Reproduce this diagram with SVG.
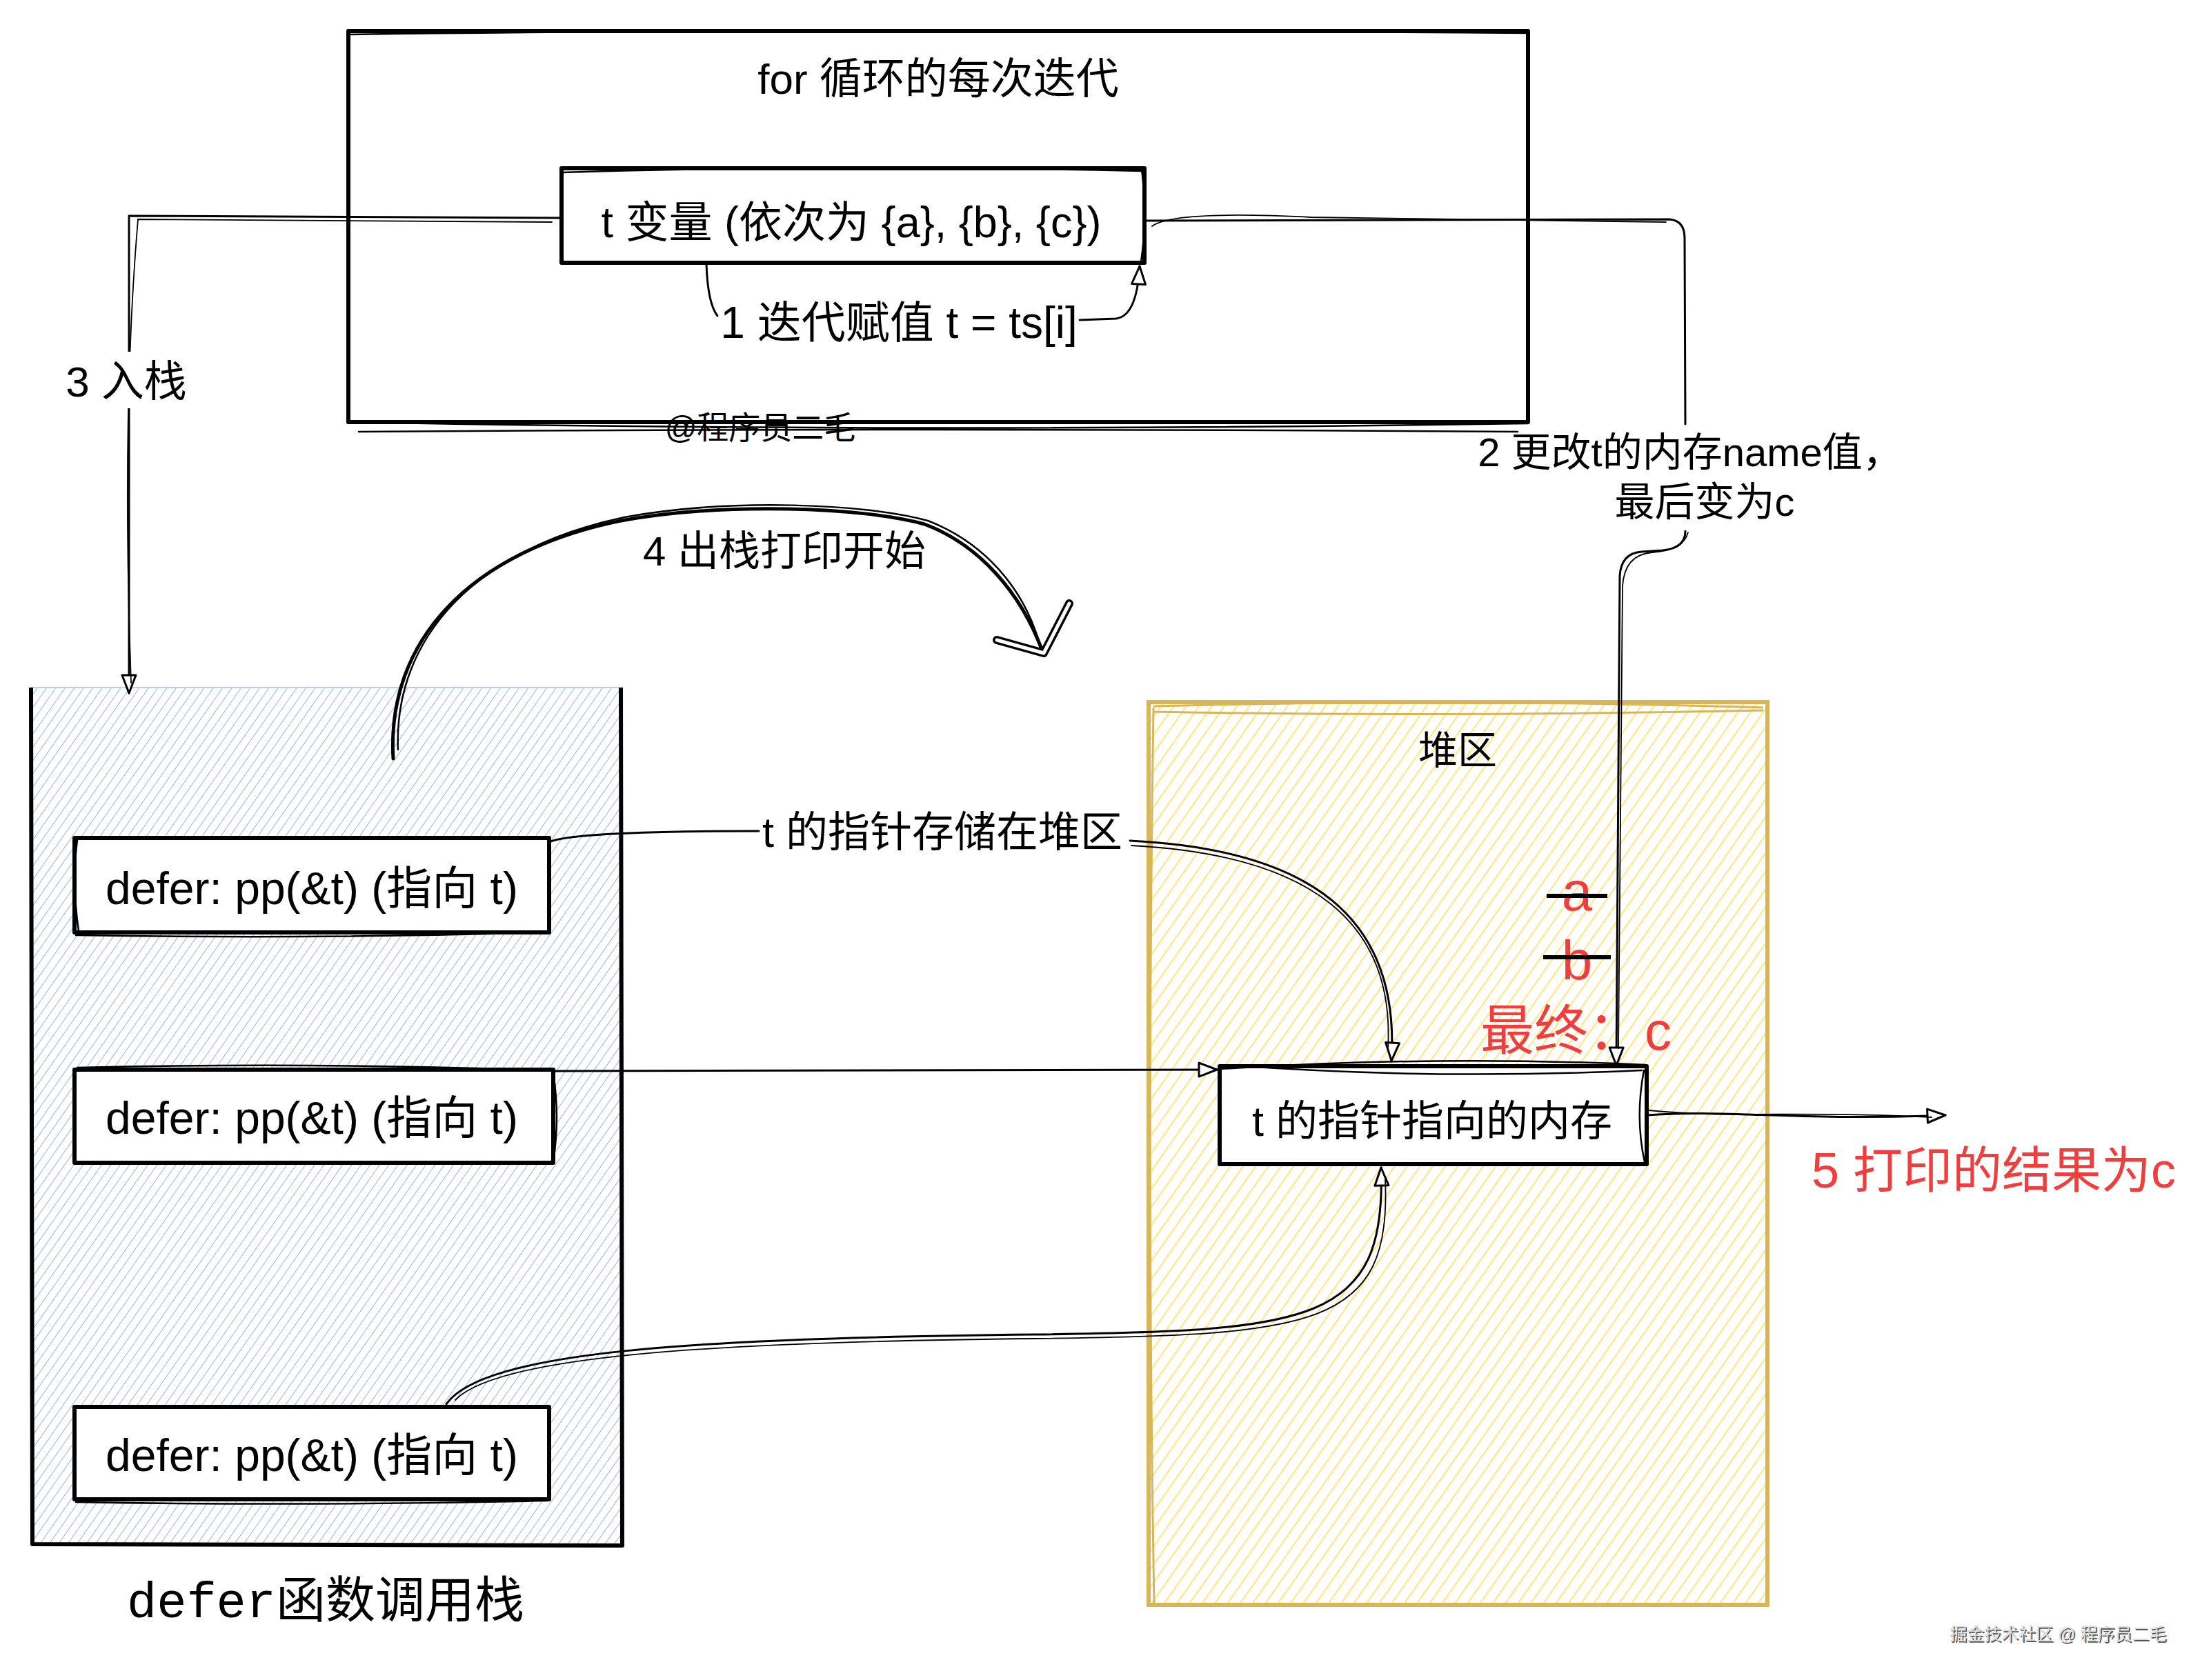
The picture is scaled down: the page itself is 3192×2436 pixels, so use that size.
<svg xmlns="http://www.w3.org/2000/svg" width="3192" height="2436" viewBox="0 0 3192 2436">
<style>
  .t { font-family: "Liberation Sans", "Noto Sans CJK SC", sans-serif; fill: #000; }
  .m { font-family: "Liberation Mono", "DejaVu Sans Mono", "Noto Sans CJK SC", monospace; fill: #000; }
  .red { font-family: "Liberation Sans", "Noto Sans CJK SC", sans-serif; fill: #f03e3e; }
  .box { fill: #fff; stroke: #000; stroke-width: 6; stroke-linejoin: round; }
  .sk { fill: none; stroke: #000; stroke-width: 2.5; stroke-linecap: round; }
  .conn { fill: none; stroke: #000; stroke-width: 3; stroke-linecap: round; stroke-linejoin: round; }
  .conn2 { fill: none; stroke: #000; stroke-width: 1.8; stroke-linecap: round; }
</style>
<defs>
  <pattern id="hBlue" width="11" height="11" patternUnits="userSpaceOnUse" patternTransform="rotate(35)">
    <line x1="0" y1="0" x2="0" y2="11" stroke="#4f86d4" stroke-width="1.5" stroke-opacity="0.8"/>
  </pattern>
  <pattern id="hYellow" width="15" height="15" patternUnits="userSpaceOnUse" patternTransform="rotate(35)">
    <line x1="0" y1="0" x2="0" y2="15" stroke="#ffe58a" stroke-width="4.5"/>
  </pattern>
  <marker id="ah" viewBox="0 0 30 24" refX="28" refY="12" markerWidth="30" markerHeight="24" markerUnits="userSpaceOnUse" orient="auto">
    <path d="M2,2 L28,12 L2,22 Z" fill="#fff" stroke="#000" stroke-width="3" stroke-linejoin="round"/>
  </marker>
</defs>
<rect width="3192" height="2436" fill="#fff"/>

<!-- for loop container -->
<g id="for-loop">
  <rect class="box" x="505" y="45" width="1710" height="567" stroke-width="7"/>
  <path class="sk" d="M505,50 Q1200,40 2212,48 M510,612 Q1300,628 2215,614 M520,626 Q1300,620 2200,626"/>
  <text class="t" x="1360" y="136" font-size="62" text-anchor="middle">for 循环的每次迭代</text>
</g>

<!-- t variable -->
<g id="t-var">
  <rect class="box" x="814" y="244" width="845" height="137"/>
  <path class="sk" d="M816,250 Q1200,238 1656,248 M1655,246 Q1664,310 1654,380"/>
  <text class="t" x="1234" y="344" font-size="63" text-anchor="middle">t 变量 (依次为 {a}, {b}, {c})</text>
</g>

<!-- stack container -->
<g id="stack">
  <rect x="45" y="997" width="857" height="1242" fill="url(#hBlue)" stroke="#b9cde8" stroke-width="2"/>
  <path d="M45,997 L47,2239 L902,2241 L900,997" fill="none" stroke="#000" stroke-width="6" stroke-linejoin="round"/>
  <text class="m" x="472" y="2345" font-size="72" text-anchor="middle">defer<tspan class="t" font-family="Liberation Sans, Noto Sans CJK SC, sans-serif">函数调用栈</tspan></text>
</g>

<g id="defer-1">
  <rect class="box" x="108" y="1215" width="688" height="137"/>
  <path class="sk" d="M112,1218 Q104,1280 114,1350 M110,1356 Q450,1362 794,1352"/>
  <text class="t" x="452" y="1311" font-size="66" text-anchor="middle">defer: pp(&amp;t) (指向 t)</text>
</g>
<g id="defer-2">
  <rect class="box" x="108" y="1551" width="694" height="135"/>
  <path class="sk" d="M112,1548 Q450,1540 800,1552 M802,1556 Q812,1620 802,1684"/>
  <text class="t" x="452" y="1644" font-size="66" text-anchor="middle">defer: pp(&amp;t) (指向 t)</text>
</g>
<g id="defer-3">
  <rect class="box" x="108" y="2040" width="688" height="134"/>
  <path class="sk" d="M110,2178 Q450,2184 794,2176"/>
  <text class="t" x="452" y="2133" font-size="66" text-anchor="middle">defer: pp(&amp;t) (指向 t)</text>
</g>

<!-- heap container -->
<g id="heap">
  <rect x="1665" y="1018" width="897" height="1309" fill="url(#hYellow)" stroke="#d6b656" stroke-width="6"/>
  <path d="M1672,1024 Q2100,1012 2556,1026 M1672,1032 Q2100,1040 2556,1030 M1672,1026 Q1662,1700 1673,2325" fill="none" stroke="#d6b656" stroke-width="3"/>
  <text class="t" x="2113" y="1108" font-size="57" text-anchor="middle">堆区</text>
</g>

<!-- memory -->
<g id="memory">
  <rect class="box" x="1768" y="1546" width="619" height="142"/>
  <path class="sk" d="M1770,1550 Q2080,1530 2385,1544 M1790,1545 Q2080,1566 2380,1552 M2383,1552 Q2370,1620 2384,1685"/>
  <text class="t" x="2076" y="1647" font-size="61" text-anchor="middle">t 的指针指向的内存</text>
</g>

<!-- red annotations -->
<g id="values">
  <text class="red" x="2286" y="1320" font-size="80" text-anchor="middle">a</text>
  <line x1="2242" y1="1299" x2="2330" y2="1299" stroke="#000" stroke-width="6"/>
  <text class="red" x="2286" y="1420" font-size="80" text-anchor="middle">b</text>
  <line x1="2237" y1="1388" x2="2335" y2="1388" stroke="#000" stroke-width="6"/>
  <text class="red" x="2146" y="1522" font-size="78">最终：<tspan x="2384">c</tspan></text>
</g>
<g id="result">
  <text class="red" x="2626" y="1722" font-size="72">5 打印的结果为c</text>
</g>

<!-- connectors -->
<g id="connectors">
  <!-- 1 iteration assign -->
  <path class="conn" d="M1024,383 Q1026,440 1040,458"/>
  <path class="conn" d="M1565,464 L1618,462 Q1648,458 1652,386" marker-end="url(#ah)"/>
  <!-- 3 push -->
  <path class="conn" d="M814,316 L187,313 L187,1005" marker-end="url(#ah)"/>
  <path class="conn2" d="M800,322 L200,318 Q176,600 190,990"/>
  <!-- 2 change memory -->
  <path class="conn" d="M1659,320 L2420,318 Q2442,320 2442,345 L2443,615"/>
  <path class="conn2" d="M1670,328 Q1700,305 1900,315 L2415,322"/>
  <path class="conn" d="M2443,770 Q2443,795 2410,798 L2380,800 Q2350,802 2348,835 L2343,1545" marker-end="url(#ah)"/>
  <path class="conn2" d="M2447,772 Q2440,798 2395,801 Q2355,804 2352,850 L2346,1520"/>
  <!-- 4 pop -->
  <path d="M570,1100 C560,930 680,800 900,755 C1050,728 1250,735 1340,760 C1420,790 1480,860 1511,944" fill="none" stroke="#000" stroke-width="5" stroke-linecap="round"/>
  <path d="M577,1088 C570,925 690,795 905,750 C1060,722 1255,730 1345,755 C1425,786 1482,850 1506,930" fill="none" stroke="#000" stroke-width="2.5"/>
  <path d="M1445,928 L1513,947 L1550,875" fill="none" stroke="#000" stroke-width="12" stroke-linecap="round" stroke-linejoin="round"/>
  <path d="M1445,928 L1513,947 L1550,875" fill="none" stroke="#fff" stroke-width="5" stroke-linecap="round" stroke-linejoin="round"/>
  <!-- defer1 -> memory via label -->
  <path class="conn" d="M796,1221 Q830,1205 1100,1205"/>
  <path class="conn" d="M1638,1219 C1900,1232 2030,1330 2017,1538" marker-end="url(#ah)"/>
  <path class="conn2" d="M1640,1226 C1905,1240 2022,1340 2012,1520"/>
  <!-- defer2 -> memory -->
  <path class="conn" d="M802,1553 L1764,1551" marker-end="url(#ah)"/>
  <!-- defer3 -> memory bottom -->
  <path class="conn" d="M647,2036 C700,1960 1000,1940 1500,1935 C1900,1930 2010,1920 2002,1693" marker-end="url(#ah)"/>
  <path class="conn2" d="M660,2030 C720,1968 1010,1946 1500,1941 C1905,1936 2018,1926 2008,1710"/>
  <!-- 5 print -->
  <path class="conn" d="M2387,1617 C2500,1608 2600,1626 2820,1617" marker-end="url(#ah)"/>
  <path class="conn2" d="M2390,1610 C2520,1622 2600,1610 2800,1620"/>
</g>

<!-- connector labels -->
<g id="labels">
  <text class="t" x="1303" y="490" font-size="64" text-anchor="middle">1 迭代赋值 t = ts[i]</text>
  <rect x="120" y="510" width="140" height="82" fill="#fff"/>
  <text class="t" x="183" y="575" font-size="62" text-anchor="middle">3 入栈</text>
  <text class="t" x="2450" y="676" font-size="58" text-anchor="middle">2 更改t的内存name值，</text>
  <text class="t" x="2471" y="748" font-size="58" text-anchor="middle">最后变为c</text>
  <text class="t" x="932" y="820" font-size="60">4 出栈打印开始</text>
  <text class="t" x="1366" y="1228" font-size="61" text-anchor="middle">t 的指针存储在堆区</text>
</g>

<!-- watermarks -->
<g id="watermarks">
  <text class="t" x="1102" y="636" font-size="46" text-anchor="middle" fill="#222">@程序员二毛</text>
  <text x="2828" y="2380" font-size="25" font-family="Liberation Sans, Noto Sans CJK SC, sans-serif" fill="#555">掘金技术社区 @ 程序员二毛</text>
  <text x="2826" y="2378" font-size="25" font-family="Liberation Sans, Noto Sans CJK SC, sans-serif" fill="#ddd">掘金技术社区 @ 程序员二毛</text>
</g>
</svg>
